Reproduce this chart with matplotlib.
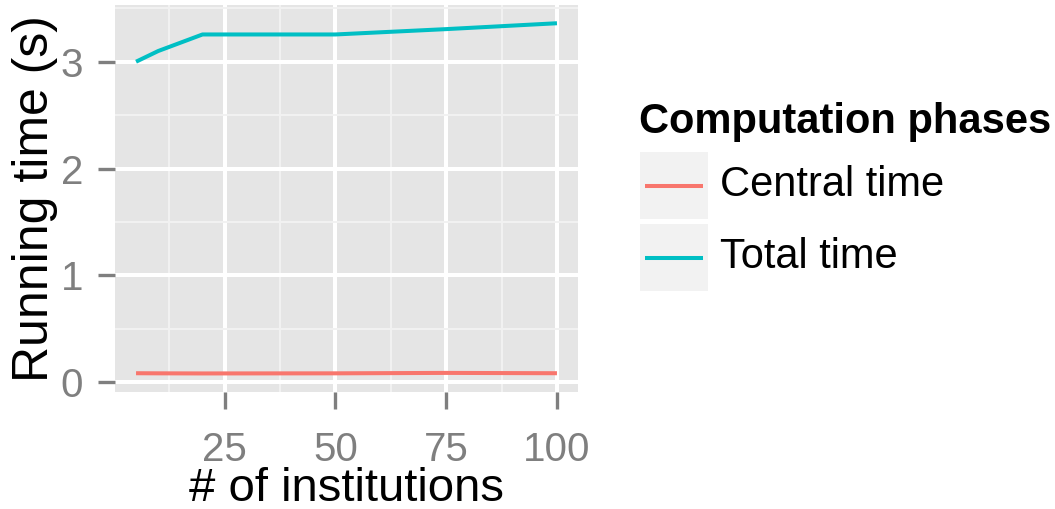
import matplotlib
matplotlib.use("Agg")
import matplotlib.pyplot as plt
from matplotlib.lines import Line2D
from matplotlib.patches import Rectangle

plt.rcParams['font.family'] = ['Liberation Sans', 'DejaVu Sans']

# data
institutions = [5, 10, 20, 50, 75, 100]
central_time = [0.085, 0.084, 0.083, 0.084, 0.088, 0.085]
total_time = [3.0, 3.1, 3.255, 3.255, 3.305, 3.36]
series_names = ["Central time", "Total time"]
series_colors = ["#F8766D", "#00BFC4"]
x_ticks = [25, 50, 75, 100]
y_ticks = [0, 1, 2, 3]

fig = plt.figure(figsize=(10.55, 5.09), dpi=100)
ax = fig.add_axes([115/1055, 1-392/509, 463/1055, 387/509])
ax.set_facecolor("#E5E5E5")

ax.plot(institutions, central_time, color=series_colors[0], lw=2.9, solid_capstyle='butt', zorder=3)
ax.plot(institutions, total_time, color=series_colors[1], lw=2.9, solid_capstyle='butt', zorder=3)

ax.set_xlim(0.25, 104.75)
ax.set_ylim(-0.0907, 3.5307)
ax.set_xticks(x_ticks)
ax.set_yticks(y_ticks)
ax.set_xticks([12.5, 37.5, 62.5, 87.5], minor=True)
ax.set_yticks([0.5, 1.5, 2.5, 3.5], minor=True)
ax.grid(which='major', color='white', lw=2.9)
ax.grid(which='minor', color='#F2F2F2', lw=1.4)
ax.set_axisbelow(True)
for s in ax.spines.values():
    s.set_visible(False)

ax.tick_params(which='major', length=12, width=2.4, color='#7F7F7F',
               labelcolor='#7F7F7F', labelsize=29)
ax.tick_params(axis='x', pad=16)
ax.tick_params(axis='y', pad=11)
ax.tick_params(which='minor', length=0)

ax.set_xlabel("# of institutions", fontsize=34, labelpad=-1.5)
ax.set_ylabel("Running time (s)", fontsize=36, labelpad=2)

# legend drawn by hand, ggplot style
fig.text(639/1055, 1-133/509, "Computation phases", fontsize=30, fontweight='bold',
         ha='left', va='baseline')
key_tops = [152, 224]
for top, name, col in zip(key_tops, series_names, series_colors):
    fig.patches.append(Rectangle((640/1055, 1-(top+67)/509), 68/1055, 67/509,
                                 transform=fig.transFigure, facecolor='#F2F2F2',
                                 edgecolor='none'))
    yc = 1-(top+33.5)/509
    fig.lines.append(Line2D([645/1055, 703/1055], [yc, yc], transform=fig.transFigure,
                            color=col, lw=2.9, solid_capstyle='butt'))
    fig.text(720/1055, yc, name, fontsize=30, ha='left', va='center')

fig.savefig("out.png", dpi=100)
